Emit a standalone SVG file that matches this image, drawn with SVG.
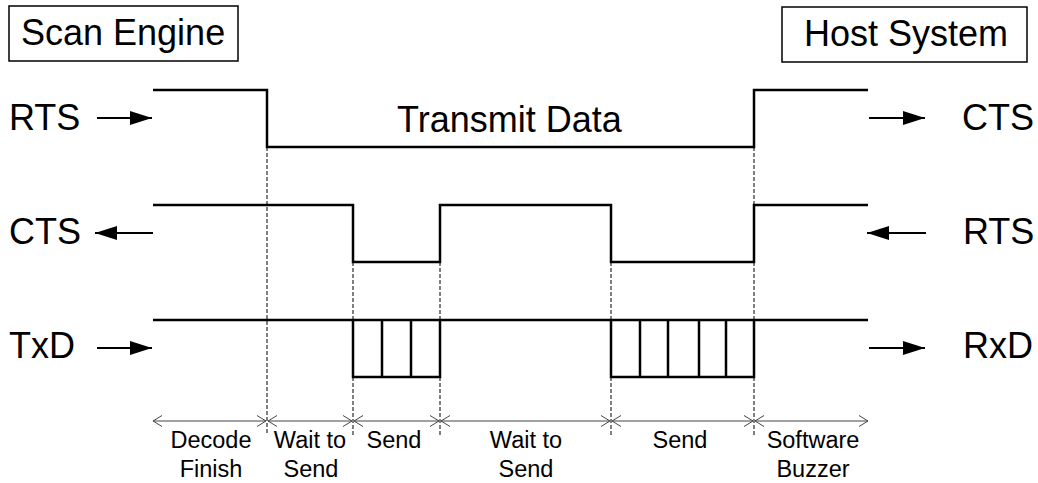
<svg xmlns="http://www.w3.org/2000/svg" width="1038" height="483" viewBox="0 0 1038 483">
<defs>
<style>
.lbl{font-family:"Liberation Sans",Arial,sans-serif;font-size:36px;fill:#000}
.sm{font-family:"Liberation Sans",Arial,sans-serif;font-size:23.5px;fill:#000;text-anchor:middle}
.sig{fill:none;stroke:#000;stroke-width:2.5}
.box{fill:#fff;stroke:#000;stroke-width:1.5}
.dash{fill:none;stroke:#000;stroke-width:1;stroke-dasharray:4 2}
.arr{fill:none;stroke:#000;stroke-width:2}
.dim{fill:none;stroke:#444;stroke-width:1}
</style>
<marker id="ah" markerUnits="userSpaceOnUse" markerWidth="22" markerHeight="16" refX="22" refY="8" orient="auto">
<path d="M0,1 L22,8 L0,15 z" fill="#000"/>
</marker>
<marker id="oh" markerUnits="userSpaceOnUse" markerWidth="12" markerHeight="14" refX="10" refY="7" orient="auto-start-reverse">
<path d="M1,1.5 L10,7 L1,12.5" fill="none" stroke="#444" stroke-width="1"/>
</marker>
</defs>
<rect width="1038" height="483" fill="#fff"/>

<g id="scan-engine">
<rect class="box" x="9" y="6" width="229" height="55"/>
<text class="lbl" x="21" y="45">Scan Engine</text>
</g>
<g id="host-system">
<rect class="box" x="782" y="7" width="245" height="55"/>
<text class="lbl" x="804" y="46">Host System</text>
</g>

<g id="labels">
<text class="lbl" x="9" y="130">RTS</text>
<text class="lbl" x="9" y="244">CTS</text>
<text class="lbl" x="9" y="358">TxD</text>
<text class="lbl" x="962" y="130">CTS</text>
<text class="lbl" x="963" y="244">RTS</text>
<text class="lbl" x="963" y="358">RxD</text>
<text class="lbl" x="397" y="132">Transmit Data</text>
</g>

<g id="signals">
<path class="sig" d="M153,90 H267 V147 H754 V90 H868"/>
<path class="sig" d="M153,205 H353 V262 H440 V205 H611 V262 H754 V205 H868"/>
<path class="sig" d="M153,320 H868"/>
<path class="sig" d="M353,320 V377 H440 V320 M382,320 V377 M411,320 V377"/>
<path class="sig" d="M611,320 V377 H754 V320 M640,320 V377 M668,320 V377 M699,320 V377 M726,320 V377"/>
</g>

<g id="connectors">
<line class="arr" x1="97" y1="118" x2="152" y2="118" marker-end="url(#ah)"/>
<line class="arr" x1="153" y1="233" x2="95" y2="233" marker-end="url(#ah)"/>
<line class="arr" x1="97" y1="348" x2="152" y2="348" marker-end="url(#ah)"/>
<line class="arr" x1="869" y1="118" x2="925" y2="118" marker-end="url(#ah)"/>
<line class="arr" x1="926" y1="233" x2="867" y2="233" marker-end="url(#ah)"/>
<line class="arr" x1="869" y1="348" x2="925" y2="348" marker-end="url(#ah)"/>
</g>

<g id="guides">
<line class="dash" x1="267" y1="147" x2="267" y2="435"/>
<line class="dash" x1="353" y1="262" x2="353" y2="320"/>
<line class="dash" x1="353" y1="377" x2="353" y2="435"/>
<line class="dash" x1="440" y1="262" x2="440" y2="320"/>
<line class="dash" x1="440" y1="377" x2="440" y2="435"/>
<line class="dash" x1="611" y1="262" x2="611" y2="320"/>
<line class="dash" x1="611" y1="377" x2="611" y2="435"/>
<line class="dash" x1="754" y1="147" x2="754" y2="205"/>
<line class="dash" x1="754" y1="262" x2="754" y2="320"/>
<line class="dash" x1="754" y1="377" x2="754" y2="435"/>
</g>

<g id="durations">
<line class="dim" x1="153" y1="421" x2="266" y2="421" marker-start="url(#oh)" marker-end="url(#oh)"/>
<line class="dim" x1="268" y1="421" x2="352" y2="421" marker-start="url(#oh)" marker-end="url(#oh)"/>
<line class="dim" x1="354" y1="421" x2="439" y2="421" marker-start="url(#oh)" marker-end="url(#oh)"/>
<line class="dim" x1="441" y1="421" x2="610" y2="421" marker-start="url(#oh)" marker-end="url(#oh)"/>
<line class="dim" x1="612" y1="421" x2="753" y2="421" marker-start="url(#oh)" marker-end="url(#oh)"/>
<line class="dim" x1="755" y1="421" x2="868" y2="421" marker-start="url(#oh)" marker-end="url(#oh)"/>
<text class="sm" x="211" y="448">Decode</text>
<text class="sm" x="211" y="477">Finish</text>
<text class="sm" x="310" y="448">Wait to</text>
<text class="sm" x="311" y="477">Send</text>
<text class="sm" x="394" y="448">Send</text>
<text class="sm" x="526" y="448">Wait to</text>
<text class="sm" x="526" y="477">Send</text>
<text class="sm" x="680" y="448">Send</text>
<text class="sm" x="813" y="448">Software</text>
<text class="sm" x="813" y="477">Buzzer</text>
</g>
</svg>
